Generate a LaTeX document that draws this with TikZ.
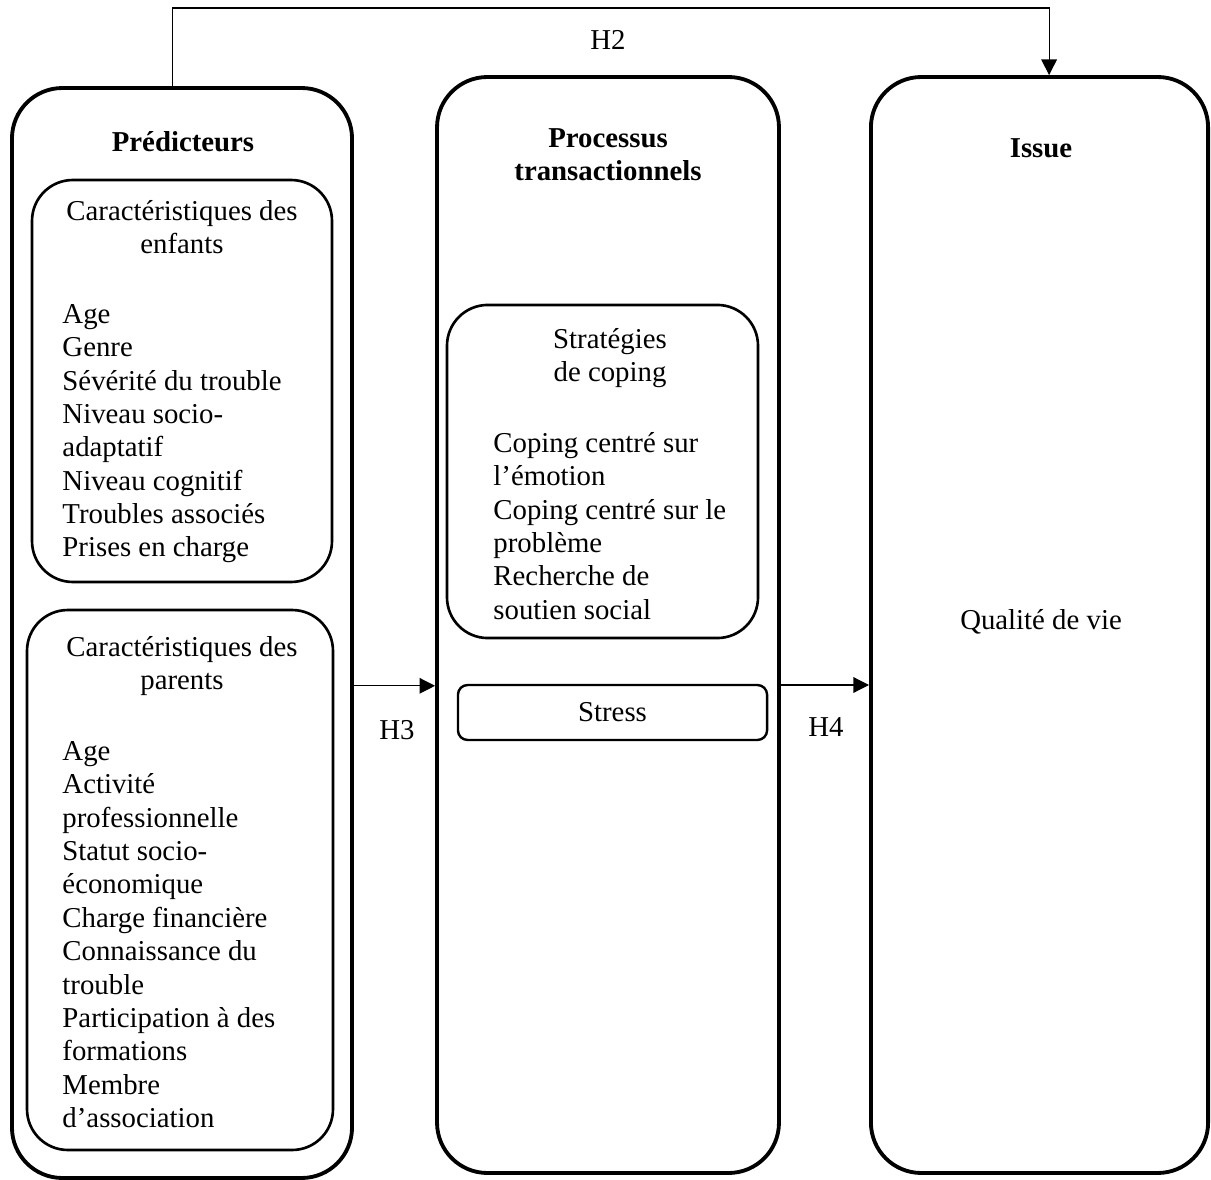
\documentclass[tikz,border=0pt]{standalone}
\usepackage{fontspec}
\setmainfont{Liberation Serif}
\usetikzlibrary{arrows.meta,positioning}

\begin{document}
\begin{tikzpicture}[x=0.4167pt, y=-0.4167pt,
    every node/.style={font=\fontsize{12}{13.9}\selectfont, inner sep=0pt},
    bigbox/.style={draw, line width=1.6pt, rounded corners=21pt},
    subbox/.style={draw, line width=1.1pt, rounded corners=17pt},
    heading/.style={font=\fontsize{12}{13.9}\selectfont\bfseries, align=center},
    boxtitle/.style={align=center},
    items/.style={align=left, anchor=north west},
    link/.style={draw, line width=0.5pt, -{Triangle[length=6.5pt,width=6.5pt]}}]
    \useasboundingbox (0,0) rectangle (1211,1180);
    \node[bigbox, minimum width=141.7pt, minimum height=454.2pt](pred) at (182,633){};
    \node[bigbox, minimum width=142.5pt, minimum height=456.7pt](proc) at (608,625){};
    \node[bigbox, minimum width=140.5pt, minimum height=456.7pt](issue) at (1039.5,625){};
    \node[subbox, minimum width=125pt, minimum height=167.5pt](enf) at (182,381){};
    \node[subbox, minimum width=127.5pt, minimum height=225pt](par) at (180,880){};
    \node[subbox, minimum width=129.6pt, minimum height=138.8pt](strat) at (602.5,471.5){};
    \node[draw, line width=1pt, rounded corners=4pt, minimum width=128.8pt, minimum height=22.9pt](stress) at (612.5,712.5){Stress};
    \node[heading](predT) at (183,142){Prédicteurs};
    \node[heading](procT) at (608,155){Processus\\transactionnels};
    \node[heading](issueT) at (1041,148){Issue};
    \node[boxtitle](enfT) at (182,227){Caractéristiques des\\enfants};
    \node[items](enfL) at (62,304){Age\\Genre\\Sévérité du trouble\\Niveau socio-\\adaptatif\\Niveau cognitif\\Troubles associés\\Prises en charge};
    \node[boxtitle](parT) at (182,666){Caractéristiques des\\parents};
    \node[items](parL) at (62,741){Age\\Activité\\professionnelle\\Statut socio-\\économique\\Charge financière\\Connaissance du\\trouble\\Participation à des\\formations\\Membre\\d’association};
    \node[boxtitle](stratT) at (610,358){Stratégies\\de coping};
    \node[items](stratL) at (493,432){Coping centré sur\\l’émotion\\Coping centré sur le\\problème\\Recherche de\\soutien social};
    \node(qual) at (1041,622){Qualité de vie};
    \node(h2) at (608,40){H2};
    \node(h3) at (397,730){H3};
    \node(h4) at (826,727){H4};
    \draw[link] ([xshift=-4pt]pred.north) -- ++(0,-78) -| ([xshift=4pt]issue.north);
    \draw[link] ([yshift=-22pt]pred.east) -- ([yshift=-22pt]pred.east -| proc.west);
    \draw[link] ([yshift=-25pt]proc.east) -- ([yshift=-25pt]proc.east -| issue.west);
\end{tikzpicture}
\end{document}
